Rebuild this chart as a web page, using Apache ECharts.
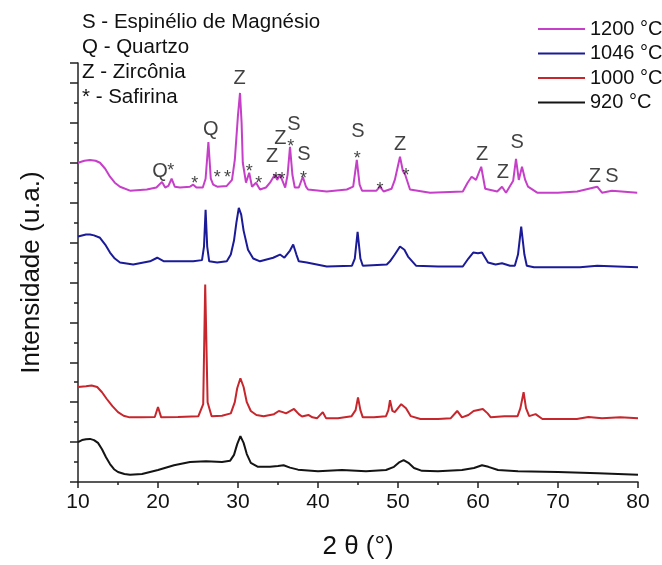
<!DOCTYPE html>
<html>
<head>
<meta charset="utf-8">
<title>DRX</title>
<script src="https://cdn.jsdelivr.net/npm/echarts@6/dist/echarts.min.js"></script>
<style>
  html, body { margin: 0; padding: 0; background: #fff; }
  #chart { width: 662px; height: 565px; }
</style>
</head>
<body>
<div id="chart"></div>
<script>
// difratogramas [2θ, intensidade deslocada]
const curve920 = [
  [10, 1.0], [10.5, 1.05], [11, 1.07], [11.5, 1.08], [12, 1.05], [12.5, 0.98], [13, 0.82], [13.5, 0.62],
  [14, 0.45], [14.5, 0.32], [15, 0.25], [15.8, 0.2], [16.5, 0.18], [18, 0.2], [20, 0.3], [22, 0.42],
  [24, 0.5], [26, 0.52], [28, 0.5], [29, 0.53], [29.5, 0.68], [29.9, 0.95], [30.3, 1.15], [30.7, 0.98],
  [31.1, 0.7], [31.6, 0.48], [32.5, 0.38], [34, 0.38], [35, 0.4], [35.7, 0.42], [36.5, 0.36], [37.5, 0.31],
  [40, 0.27], [43, 0.3], [46, 0.27], [48.5, 0.3], [49.5, 0.38], [50.2, 0.5], [50.7, 0.55], [51.3, 0.48],
  [52, 0.35], [53, 0.28], [55, 0.27], [58, 0.3], [59.5, 0.35], [60.5, 0.42], [61.3, 0.38], [62.5, 0.3],
  [65, 0.27], [70, 0.25], [75, 0.22], [80, 0.18]
]

const curve1000 = [
  [10, 2.38], [11, 2.4], [11.7, 2.42], [12.4, 2.38], [13, 2.25], [13.6, 2.08], [14.3, 1.9], [15, 1.75],
  [15.7, 1.66], [16.45, 1.62], [18, 1.62], [19.6, 1.63], [20.0, 1.88], [20.4, 1.62], [22.5, 1.63],
  [25.05, 1.65], [25.65, 1.95], [25.9, 4.95], [26.2, 2.0], [26.7, 1.65], [28, 1.66], [29.1, 1.72],
  [29.6, 2.0], [29.9, 2.35], [30.3, 2.6], [30.7, 2.38], [31.1, 2.0], [31.6, 1.78], [32.3, 1.68],
  [33.2, 1.65], [34.5, 1.7], [35.1, 1.78], [35.6, 1.75], [36.0, 1.72], [37.0, 1.83], [37.6, 1.7],
  [38.0, 1.64], [38.8, 1.68], [39.3, 1.62], [39.9, 1.6], [40.6, 1.75], [41.0, 1.6], [42.5, 1.6],
  [44.2, 1.65], [44.7, 1.8], [45.0, 2.12], [45.3, 1.8], [45.6, 1.62], [47, 1.62], [48.5, 1.65],
  [48.8, 1.8], [49.0, 2.05], [49.3, 1.78], [49.6, 1.75], [50.4, 1.95], [51.0, 1.85], [51.6, 1.65],
  [52.8, 1.58], [55, 1.58], [56.6, 1.6], [57.4, 1.78], [58.0, 1.62], [58.8, 1.68], [59.45, 1.78],
  [60.6, 1.83], [61.2, 1.72], [61.6, 1.62], [63.3, 1.65], [64.95, 1.65], [65.3, 1.85], [65.7, 2.25],
  [66.0, 1.85], [66.4, 1.65], [67.2, 1.7], [68.05, 1.58], [70, 1.58], [72.35, 1.58], [73.8, 1.63],
  [75.5, 1.6], [77.8, 1.62], [80, 1.6]
]

const curve1046 = [
  [10, 6.15], [11, 6.2], [11.5, 6.2], [12, 6.18], [12.75, 6.12], [13.4, 5.95], [14, 5.75], [14.6, 5.6],
  [15.25, 5.5], [16.9, 5.45], [19, 5.53], [19.9, 5.62], [20.75, 5.53], [22.5, 5.53], [24.4, 5.53],
  [25.5, 5.56], [25.75, 5.9], [25.95, 6.82], [26.15, 5.9], [26.4, 5.53], [27.4, 5.5], [28.6, 5.53],
  [29.1, 5.7], [29.5, 6.05], [29.8, 6.5], [30.1, 6.87], [30.4, 6.7], [30.7, 6.3], [31.25, 5.82],
  [31.9, 5.6], [32.75, 5.53], [34.4, 5.62], [35.25, 5.7], [35.8, 5.62], [36.5, 5.8], [36.9, 5.95],
  [37.3, 5.7], [37.6, 5.53], [38.6, 5.5], [41.1, 5.4], [44.25, 5.42], [44.6, 5.6], [44.95, 6.27],
  [45.3, 5.6], [45.6, 5.42], [48.6, 5.45], [49.0, 5.53], [49.6, 5.7], [50.25, 5.9], [50.8, 5.82],
  [51.25, 5.65], [52.25, 5.42], [55, 5.4], [58.1, 5.4], [58.8, 5.6], [59.4, 5.75], [60, 5.73],
  [60.5, 5.75], [61.25, 5.5], [62.2, 5.45], [63, 5.48], [64.0, 5.42], [64.6, 5.42], [65.0, 5.7],
  [65.4, 6.4], [65.8, 5.7], [66.1, 5.42], [67, 5.38], [72.75, 5.38], [74.9, 5.42], [77.4, 5.4], [80, 5.38]
]

const curve1200 = [
  [10, 8.0], [10.8, 8.05], [11.5, 8.07], [12.2, 8.05], [12.75, 8.0], [13.4, 7.85], [14, 7.65], [14.6, 7.5],
  [15.25, 7.4], [16.5, 7.3], [18.6, 7.33], [19.8, 7.38], [20.5, 7.52], [20.9, 7.38], [21.3, 7.42],
  [21.7, 7.6], [22.1, 7.4], [22.75, 7.38], [24.0, 7.4], [24.4, 7.45], [24.8, 7.38], [25.6, 7.38],
  [25.95, 7.6], [26.3, 8.52], [26.6, 7.6], [26.9, 7.45], [27.4, 7.4], [28.6, 7.42], [29.25, 7.57],
  [29.6, 8.07], [30.0, 9.2], [30.25, 9.75], [30.45, 9.0], [30.6, 8.0], [31, 7.5], [31.4, 7.75],
  [31.75, 7.4], [32.25, 7.5], [32.75, 7.33], [33.5, 7.38], [34, 7.5], [34.6, 7.7], [34.9, 7.57],
  [35.25, 7.7], [35.9, 7.38], [36.2, 7.7], [36.5, 8.4], [36.8, 7.7], [37.1, 7.38], [37.6, 7.38],
  [38.1, 7.65], [38.5, 7.4], [38.75, 7.33], [41.1, 7.28], [43.6, 7.33], [44.4, 7.4], [44.85, 8.07],
  [45.2, 7.45], [45.5, 7.3], [47.3, 7.3], [47.75, 7.4], [48.2, 7.28], [49.2, 7.35], [49.6, 7.57],
  [50.25, 8.15], [50.6, 7.8], [50.9, 7.7], [51.5, 7.33], [54, 7.25], [58.1, 7.28], [58.7, 7.5],
  [59.2, 7.65], [59.75, 7.57], [60.4, 7.9], [60.9, 7.35], [62.4, 7.28], [63, 7.4], [63.5, 7.25],
  [64.4, 7.55], [64.75, 8.1], [65.1, 7.57], [65.5, 7.9], [65.9, 7.57], [66.25, 7.4], [67.4, 7.25],
  [70, 7.25], [72.4, 7.28], [74.9, 7.4], [75.5, 7.25], [76.75, 7.3], [79.9, 7.25]
]

// identificação das fases sobre a curva de 1200 °C: [2θ, altura, texto]
const peakLabels = [
  [20.25, 7.78, 'Q'], [21.6, 7.88, '*'], [24.6, 7.55, '*'], [26.6, 8.83, 'Q'], [27.4, 7.7, '*'],
  [28.7, 7.7, '*'], [30.2, 10.12, 'Z'], [31.4, 7.85, '*'], [32.6, 7.55, '*'], [34.25, 8.15, 'Z'],
  [34.75, 7.65, '*'], [35.5, 7.65, '*'], [35.3, 8.6, 'Z'], [37.0, 8.95, 'S'], [36.6, 8.48, '*'],
  [38.25, 8.2, 'S'], [38.2, 7.68, '*'], [45.0, 8.78, 'S'], [44.9, 8.18, '*'], [47.75, 7.4, '*'],
  [50.25, 8.45, 'Z'], [51.0, 7.75, '*'], [60.5, 8.2, 'Z'], [63.1, 7.75, 'Z'], [64.9, 8.5, 'S'],
  [74.6, 7.65, 'Z'], [76.75, 7.65, 'S']
]

const phaseKey = ['S - Espinélio de Magnésio', 'Q - Quartzo', 'Z - Zircônia', '* - Safirina']
const seriesNames = ['1200 °C', '1046 °C', '1000 °C', '920 °C']
const xTicks = { min: 10, max: 80, step: 10 }

const FONT = '"Liberation Sans", Arial, sans-serif'
const colors = ['#c63fc8', '#1b1b98', '#c6262c', '#141414']
const curves = [curve1200, curve1046, curve1000, curve920]

const chart = echarts.init(document.getElementById('chart'))

const lineSeries = seriesNames.map((name, i) => ({
  name,
  type: 'line',
  data: curves[i],
  symbol: 'none',
  showSymbol: false,
  lineStyle: { color: colors[i], width: 2 },
  itemStyle: { color: colors[i] },
  z: 2
}))

const option = {
  animation: false,
  textStyle: { fontFamily: FONT },
  grid: { left: 78, right: 24, top: 63, bottom: 82 },
  legend: {
    data: seriesNames,
    orient: 'vertical',
    left: 533,
    top: 14,
    icon: 'rect',
    itemWidth: 47,
    itemHeight: 2,
    itemGap: 4.5,
    textStyle: { fontSize: 20, color: '#111', fontFamily: FONT }
  },
  xAxis: {
    type: 'value',
    min: xTicks.min,
    max: xTicks.max,
    interval: xTicks.step,
    name: '2 θ (°)',
    nameLocation: 'middle',
    nameGap: 52,
    nameTextStyle: { fontSize: 26, color: '#111', fontFamily: FONT },
    axisLine: { show: true, onZero: false, lineStyle: { color: '#222', width: 1.5 } },
    axisTick: { show: true, length: 6, lineStyle: { color: '#222', width: 1.5 } },
    minorTick: { show: true, splitNumber: 2, length: 3, lineStyle: { color: '#222', width: 1.5 } },
    axisLabel: { fontSize: 21, color: '#111', margin: 10, fontFamily: FONT },
    splitLine: { show: false }
  },
  yAxis: {
    type: 'value',
    min: 0,
    max: 10.5,
    interval: 1,
    name: 'Intensidade (u.a.)',
    nameLocation: 'middle',
    nameGap: 33,
    nameTextStyle: { fontSize: 26, color: '#111', fontFamily: FONT },
    axisLine: { show: true, lineStyle: { color: '#222', width: 1.5 } },
    axisTick: { show: true, length: 8, lineStyle: { color: '#222', width: 1.5 } },
    minorTick: { show: true, splitNumber: 2, length: 4, lineStyle: { color: '#222', width: 1.5 } },
    axisLabel: { show: false },
    splitLine: { show: false }
  },
  graphic: phaseKey.map((t, i) => ({
    type: 'text',
    left: 82,
    top: 12 + i * 25,
    style: { text: t, font: '20.5px ' + FONT, fill: '#111' }
  })),
  series: [
    ...lineSeries,
    {
      name: 'fases',
      type: 'scatter',
      symbolSize: 1,
      itemStyle: { color: 'rgba(0,0,0,0)' },
      silent: true,
      z: 3,
      data: peakLabels.map((p) => ({
        value: p,
        label: p[2] === '*' ? { fontSize: 18, offset: [0, 3] } : {}
      })),
      label: {
        show: true,
        position: 'inside',
        formatter: (p) => p.value[2],
        fontSize: 20,
        color: '#111',
        fontFamily: FONT
      }
    }
  ]
}

chart.setOption(option)
</script>
</body>
</html>
